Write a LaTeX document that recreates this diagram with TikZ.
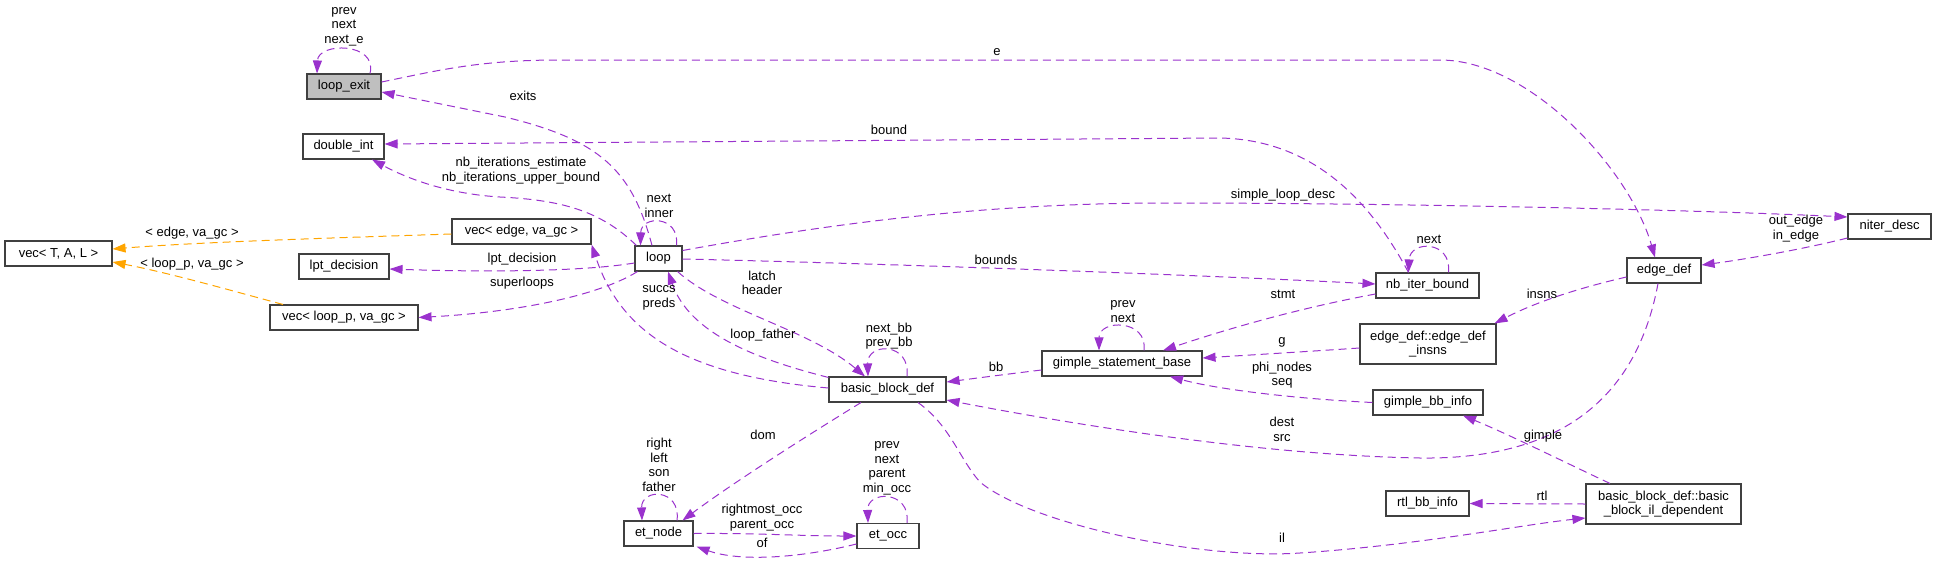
\documentclass[tikz,border=0pt]{standalone}
\usepackage{fontspec}
\setmainfont{Liberation Sans}
\usetikzlibrary{arrows.meta,calc}
\definecolor{edgepurple}{HTML}{9A32CD}
\definecolor{edgeorange}{HTML}{FFA500}
\definecolor{boxgray}{HTML}{BFBFBF}
\definecolor{boxline}{HTML}{404040}
\tikzset{
  cls/.style={draw=boxline, line width=1.1pt, fill=white, inner sep=0pt, minimum height=25pt, align=center, font=\fontsize{13}{14.5}\selectfont},
  lab/.style={inner sep=0pt, align=center, font=\fontsize{13}{14.5}\selectfont},
  dep/.style={draw=edgepurple, line width=1pt, dash pattern=on 8pt off 5pt, -{Triangle[length=13pt,width=9pt]}},
  tmpl/.style={dep, draw=edgeorange},
}
\begin{document}
\begin{tikzpicture}[x=1pt,y=-1pt]
\useasboundingbox (0,0) rectangle (1936,563);
% classes
\node[cls, fill=boxgray, minimum width=74pt] (loopexit) at (344,86.5) {loop\_exit};
\node[cls, minimum width=81pt] (doubleint) at (343.5,146.5) {double\_int};
\node[cls, minimum width=107pt] (vecT) at (58.5,253.5) {vec< T, A, L >};
\node[cls, minimum width=139pt] (vecEdge) at (521.5,231.5) {vec< edge, va\_gc >};
\node[cls, minimum width=90pt] (lpt) at (344,266.5) {lpt\_decision};
\node[cls, minimum width=148pt] (vecLoop) at (344,317.5) {vec< loop\_p, va\_gc >};
\node[cls, minimum width=47pt] (loop) at (658.5,258.5) {loop};
\node[cls, minimum width=103pt] (nbib) at (1427.5,285.5) {nb\_iter\_bound};
\node[cls, minimum width=83pt] (niter) at (1889.5,226.5) {niter\_desc};
\node[cls, minimum width=74pt] (edgedef) at (1664,270.5) {edge\_def};
\node[cls, minimum width=136pt, minimum height=40pt] (edi) at (1428,344) {edge\_def::edge\_def\\\_insns};
\node[cls, minimum width=160pt] (gsb) at (1122,363.5) {gimple\_statement\_base};
\node[cls, minimum width=110pt] (gbi) at (1428,402.5) {gimple\_bb\_info};
\node[cls, minimum width=117pt] (bbd) at (887.5,389.5) {basic\_block\_def};
\node[cls, minimum width=83pt] (rtl) at (1427.5,503.5) {rtl\_bb\_info};
\node[cls, minimum width=155pt, minimum height=40pt] (bbild) at (1663.5,504) {basic\_block\_def::basic\\\_block\_il\_dependent};
\node[cls, minimum width=69pt] (etnode) at (658.5,533.5) {et\_node};
\node[cls, minimum width=62pt] (etocc) at (888,536) {et\_occ};
% self loops
\draw[dep] ([xshift=26pt]loopexit.north) .. controls (378,42) and (318,42) .. ([xshift=-27pt]loopexit.north);
\draw[dep] ([xshift=21pt]nbib.north) .. controls (1452,240) and (1410,240) .. ([xshift=-19pt]nbib.north);
\draw[dep] ([xshift=18pt]loop.north) .. controls (680,215) and (641,215) .. ([xshift=-18pt]loop.north);
\draw[dep] ([xshift=22pt]gsb.north) .. controls (1148,319) and (1099,319) .. ([xshift=-23pt]gsb.north);
\draw[dep] ([xshift=19.5pt]bbd.north) .. controls (911,342) and (867,342) .. ([xshift=-19.5pt]bbd.north);
\draw[dep] ([xshift=18.5pt]etnode.north) .. controls (681,488) and (641,488) .. ([xshift=-16.5pt]etnode.north);
\draw[dep] ([xshift=19pt]etocc.north) .. controls (911,490) and (867,490) .. ([xshift=-20pt]etocc.north);
% connectors
\draw[dep] ([yshift=4.5pt]loopexit.east) .. controls (440,70) and (480,60) .. (560,60) -- (1440,60) .. controls (1530,60) and (1630,170) .. ([xshift=-9pt]edgedef.north);
\draw[dep] ([xshift=-6.5pt]loop.north) .. controls (632,170) and (600,140) .. (505,117) -- ([yshift=-5.5pt]loopexit.east);
\draw[dep] ([xshift=2pt]loop.north west) .. controls (600,210) and (560,200) .. (500,197) .. controls (450,194) and (410,180) .. ([xshift=28.5pt]doubleint.south);
\draw[dep] ([xshift=-19pt]nbib.north) .. controls (1375,210) and (1320,140) .. (1220,138) -- ([yshift=2.5pt]doubleint.east);
\draw[tmpl] ([yshift=-2.5pt]vecEdge.west) .. controls (330,238) and (200,242) .. ([yshift=4.5pt]vecT.east);
\draw[tmpl] ([xshift=-61pt]vecLoop.north) .. controls (240,293) and (170,273) .. ([yshift=-8.5pt]vecT.east);
\draw[dep] ([yshift=-4.5pt]loop.west) .. controls (580,272) and (480,272) .. ([yshift=-2.5pt]lpt.east);
\draw[dep] ([xshift=3pt]loop.south west) .. controls (600,295) and (520,312) .. (vecLoop.east);
\draw[dep] ([yshift=8pt]loop.east) .. controls (850,220) and (1000,203) .. (1167,203) .. controls (1400,203) and (1700,210) .. ([yshift=9.5pt]niter.west);
\draw[dep] ([yshift=-0.5pt]loop.east) .. controls (900,264) and (1200,275) .. ([yshift=1.5pt]nbib.west);
\draw[dep] ([xshift=-5pt]loop.south east) .. controls (720,310) and (810,330) .. ([xshift=-22.5pt]bbd.north);
\draw[dep] ([yshift=-1pt]bbd.north west) .. controls (760,360) and (690,335) .. ([xshift=9.5pt]loop.south);
\draw[dep] ([yshift=1.5pt]bbd.west) .. controls (680,375) and (620,330) .. (vecEdge.south east);
\draw[dep] ([yshift=-8.5pt]nbib.west) .. controls (1300,308) and (1230,328) .. ([xshift=41pt]gsb.north);
\draw[dep] ([yshift=-4pt]edi.west) .. controls (1300,352) and (1250,355) .. ([yshift=5.5pt]gsb.east);
\draw[dep] (gbi.west) .. controls (1300,399) and (1220,390) .. ([xshift=48pt]gsb.south);
\draw[dep] ([yshift=-6.5pt]gsb.west) .. controls (1000,375) and (970,379) .. ([yshift=7.5pt]bbd.east);
\draw[dep] ([xshift=-6pt]edgedef.south) .. controls (1640,380) and (1580,460) .. (1420,458) .. controls (1250,455) and (1050,420) .. ([yshift=-10.5pt]bbd.east);
\draw[dep] ([yshift=-6.5pt]edgedef.west) .. controls (1570,290) and (1530,305) .. ([xshift=-2pt]edi.north east);
\draw[dep] ([yshift=-11.5pt]niter.west) .. controls (1800,250) and (1740,260) .. ([yshift=5.5pt]edgedef.east);
\draw[dep] ([xshift=-53.5pt]bbild.north) .. controls (1560,460) and (1510,435) .. ([xshift=35pt]gbi.south);
\draw[dep] (bbild.west) -- (rtl.east);
\draw[dep] ([xshift=30.5pt]bbd.south) .. controls (950,425) and (960,460) .. (980,482) .. controls (1030,524) and (1200,560) .. (1300,553) .. controls (1420,545) and (1520,525) .. ([yshift=-14pt]bbild.west);
\draw[dep] ([xshift=-26.5pt]bbd.south) .. controls (800,440) and (730,485) .. ([xshift=24pt]etnode.north);
\draw[dep] (etnode.east) .. controls (760,533) and (800,536) .. (etocc.west);
\draw[dep] ([yshift=-8pt]etocc.west) .. controls (800,558) and (740,562) .. ([xshift=3pt]etnode.south east);
% labels
\node[lab] (l1) at (344,26.5) {prev\\next\\next\_e};
\node[lab] (l2) at (997,52) {e};
\node[lab] (l3) at (523,96) {exits};
\node[lab] (l4) at (889,130) {bound};
\node[lab] (l5) at (521,170.5) {nb\_iterations\_estimate\\nb\_iterations\_upper\_bound};
\node[lab] (l6) at (659,206) {next\\inner};
\node[lab] (l7) at (1283,195) {simple\_loop\_desc};
\node[lab] (l8) at (192,233) {< edge, va\_gc >};
\node[lab] (l9) at (192,264) {< loop\_p, va\_gc >};
\node[lab] (l10) at (522,259) {lpt\_decision};
\node[lab] (l11) at (522,283) {superloops};
\node[lab] (l12) at (996,260) {bounds};
\node[lab] (l13) at (1796,228.5) {out\_edge\\in\_edge};
\node[lab] (l14) at (1429,239) {next};
\node[lab] (l15) at (762,283) {latch\\header};
\node[lab] (l16) at (659,298) {succs\\preds};
\node[lab] (l17) at (1283,294) {stmt};
\node[lab] (l18) at (1542,294) {insns};
\node[lab] (l19) at (1123,311.5) {prev\\next};
\node[lab] (l20) at (889,336) {next\_bb\\prev\_bb};
\node[lab] (l21) at (763,335) {loop\_father};
\node[lab] (l22) at (1282,342) {g};
\node[lab] (l23) at (996,367) {bb};
\node[lab] (l24) at (1282,375) {phi\_nodes\\seq};
\node[lab] (l25) at (1282,429.5) {dest\\src};
\node[lab] (l26) at (1543,436) {gimple};
\node[lab] (l27) at (763,435) {dom};
\node[lab] (l28) at (659,465) {right\\left\\son\\father};
\node[lab] (l29) at (887,468.5) {prev\\next\\parent\\min\_occ};
\node[lab] (l30) at (1542,496) {rtl};
\node[lab] (l31) at (762,517.5) {rightmost\_occ\\parent\_occ};
\node[lab] (l32) at (1282,538) {il};
\node[lab] (l33) at (762,543) {of};
\end{tikzpicture}
\end{document}
